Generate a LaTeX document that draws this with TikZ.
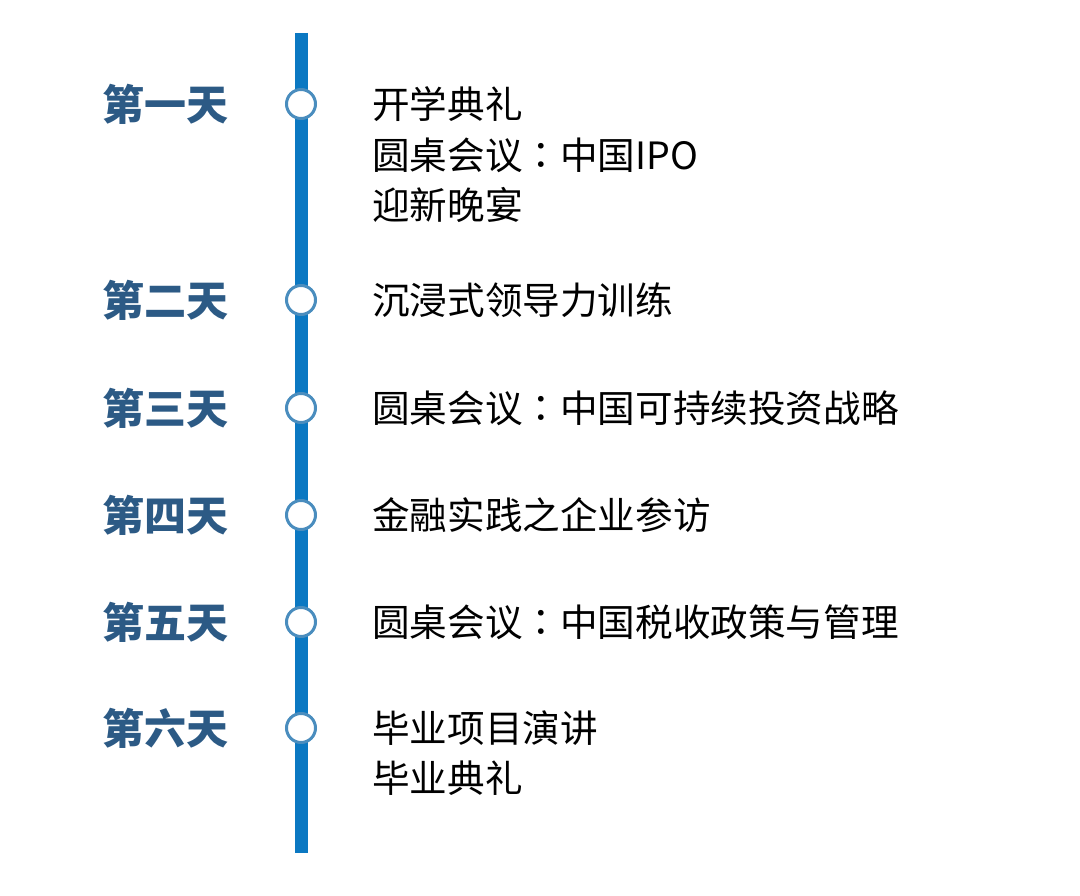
\documentclass[tikz,border=0pt]{standalone}
\usepackage{fontspec}
\setmainfont{Noto Sans CJK SC}
\newfontfamily\cjktc{Noto Sans CJK TC}
\newcommand{\mycolon}{{\cjktc ：}}
\usetikzlibrary{positioning}
\definecolor{barblue}{HTML}{0B78C2}
\definecolor{ringblue}{HTML}{4A8DBE}
\definecolor{dayblue}{HTML}{2C5A85}

\begin{document}
\begin{tikzpicture}[
  x=1pt,y=-1pt,
  day/.style={anchor=west,inner sep=0pt,text=dayblue,font=\fontsize{42}{50}\selectfont\bfseries},
  evt/.style={anchor=west,inner sep=0pt,align=left,font=\fontsize{37.6}{50.5}\selectfont},
  dot/.style={circle,draw=ringblue,line width=3pt,fill=white,minimum size=29pt,inner sep=0pt},
  bar/.style={barblue,line width=13pt}
]
\useasboundingbox (0,0) rectangle (1080,896);

\coordinate (top) at (301,33);
\coordinate (bottom) at (301,853);
\draw[bar] (top) -- (bottom);

\node[dot] (d1) at (301,104) {};
\node[dot] (d2) at (301,300) {};
\node[dot] (d3) at (301,408) {};
\node[dot] (d4) at (301,515) {};
\node[dot] (d5) at (301,622) {};
\node[dot] (d6) at (301,728) {};

\node[day] (l1) at (102,104) {第一天};
\node[day] (l2) at (102,300) {第二天};
\node[day] (l3) at (102,408) {第三天};
\node[day] (l4) at (102,515) {第四天};
\node[day] (l5) at (102,622) {第五天};
\node[day] (l6) at (102,728) {第六天};

\node[evt] (e1) at (372,155) {开学典礼\\圆桌会议\mycolon 中国IPO\\迎新晚宴};
\node[evt] (e2) at (372,300) {沉浸式领导力训练};
\node[evt] (e3) at (372,408) {圆桌会议\mycolon 中国可持续投资战略};
\node[evt] (e4) at (372,515) {金融实践之企业参访};
\node[evt] (e5) at (372,622) {圆桌会议\mycolon 中国税收政策与管理};
\node[evt] (e6) at (372,753) {毕业项目演讲\\毕业典礼};
\end{tikzpicture}
\end{document}
